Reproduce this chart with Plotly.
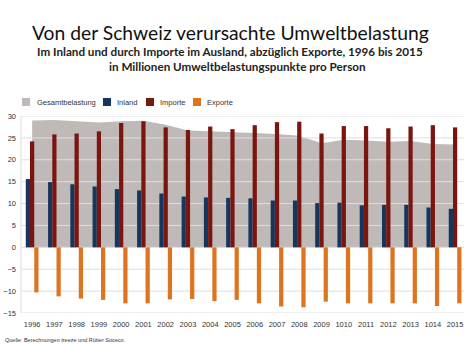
import plotly.graph_objects as go

years = ["1996", "1997", "1998", "1999", "2000", "2001", "2002", "2003", "2004", "2005",
         "2006", "2007", "2008", "2009", "1010", "2011", "2012", "2013", "1014", "2015"]
gesamt = [29.0, 29.1, 28.8, 28.5, 28.8, 28.9, 28.0, 26.7, 26.5, 26.3,
          26.1, 25.9, 25.5, 23.8, 24.6, 24.4, 24.1, 24.3, 23.6, 23.5]
inland = [15.6, 14.9, 14.4, 13.9, 13.3, 13.0, 12.3, 11.6, 11.4, 11.3,
          11.2, 10.7, 10.7, 10.1, 10.2, 9.6, 9.7, 9.7, 9.1, 8.8]
importe = [24.2, 25.8, 26.0, 26.5, 28.4, 28.8, 27.4, 26.8, 27.6, 27.0,
           27.9, 28.6, 28.7, 26.0, 27.7, 27.7, 27.2, 27.6, 27.9, 27.4]
exporte = [-10.3, -11.2, -11.7, -12.0, -12.8, -12.8, -11.9, -11.8, -12.3, -12.0,
           -12.8, -13.5, -13.7, -12.4, -12.8, -12.8, -12.8, -12.8, -13.4, -12.8]
y_ticks = [-15, -10, -5, 0, 5, 10, 15, 20, 25, 30]
series_names = ["Gesamtbelastung", "Inland", "Importe", "Exporte"]

C_GRAY = "#bfbab8"
C_BLUE = "#15375e"
C_RED = "#7a1510"
C_ORANGE = "#dc7420"
C_GRID = "#dedede"
colors = [C_GRAY, C_BLUE, C_RED, C_ORANGE]

W, H = 464, 347
ML, MR, MT, MB = 21, 0, 116, 34
FONT = "Liberation Sans, Arial, sans-serif"
TFONT = "Lato, Open Sans, sans-serif"
Y_RANGE = [-15, 30]
X_RANGE = [-0.5, 19.4]

fig = go.Figure()
# layer 1: total area (main axes)
fig.add_trace(go.Scatter(x=years, y=gesamt, name=series_names[0], mode="none",
                         fill="tozeroy", fillcolor=C_GRAY, showlegend=False,
                         xaxis="x", yaxis="y"))
# layer 2: gridlines drawn above the area, built from the tick values
gx, gy = [], []
for t in y_ticks:
    gx += [0, 1, None]
    gy += [t, t, None]
fig.add_trace(go.Scatter(x=gx, y=gy, mode="lines", line=dict(color=C_GRID, width=1),
                         hoverinfo="skip", showlegend=False, xaxis="x2", yaxis="y2"))
# layer 3: bars
fig.add_trace(go.Bar(x=years, y=inland, name=series_names[1], marker_color=C_BLUE,
                     marker_line_width=0, showlegend=False, xaxis="x3", yaxis="y3"))
fig.add_trace(go.Bar(x=years, y=importe, name=series_names[2], marker_color=C_RED,
                     marker_line_width=0, showlegend=False, xaxis="x3", yaxis="y3"))
fig.add_trace(go.Bar(x=years, y=exporte, name=series_names[3], marker_color=C_ORANGE,
                     marker_line_width=0, showlegend=False, xaxis="x3", yaxis="y3"))

pw = W - ML - MR
ph = H - MT - MB


def px_x(x):
    return (x - ML) / pw


def px_y(y):
    return (H - MB - y) / ph


annotations = []
shapes = []
annotations.append(dict(text="Von der Schweiz verursachte Umweltbelastung", x=px_x(230), y=px_y(32),
                        xref="paper", yref="paper", showarrow=False, xanchor="center", yanchor="middle",
                        font=dict(family=TFONT, size=19.3, color="#111111")))
annotations.append(dict(text="<b>Im Inland und durch Importe im Ausland, abzüglich Exporte, 1996 bis 2015</b>",
                        x=px_x(229.5), y=px_y(51), xref="paper", yref="paper", showarrow=False,
                        xanchor="center", yanchor="middle",
                        font=dict(family=TFONT, size=11.7, color="#222222")))
annotations.append(dict(text="<b>in Millionen Umweltbelastungspunkte pro Person</b>",
                        x=px_x(237.5), y=px_y(66), xref="paper", yref="paper", showarrow=False,
                        xanchor="center", yanchor="middle",
                        font=dict(family=TFONT, size=11.7, color="#222222")))
leg_sq = [22, 103, 146, 193]
leg_tx = [35, 115, 158, 205]
for name, col, sx, tx in zip(series_names, colors, leg_sq, leg_tx):
    shapes.append(dict(type="rect", xref="paper", yref="paper",
                       x0=px_x(sx), x1=px_x(sx + 8), y0=px_y(106), y1=px_y(98),
                       fillcolor=col, line_width=0))
    annotations.append(dict(text=name, x=px_x(tx), y=px_y(102), xref="paper", yref="paper",
                            showarrow=False, xanchor="left", yanchor="middle",
                            font=dict(family=FONT, size=7.5, color="#333333")))
annotations.append(dict(text="Quelle: Berechnungen treeze und Rütter Soceco.", x=px_x(3), y=px_y(340),
                        xref="paper", yref="paper", showarrow=False, xanchor="left", yanchor="middle",
                        font=dict(family=FONT, size=5.5, color="#333333")))
# light left border of the plot area
shapes.append(dict(type="line", xref="paper", yref="paper", x0=0, x1=0, y0=0, y1=1,
                   line=dict(color=C_GRID, width=1)))

fig.update_layout(
    width=W, height=H,
    margin=dict(l=ML, r=MR, t=MT, b=MB),
    paper_bgcolor="white", plot_bgcolor="white",
    barmode="group", bargap=0.43, bargroupgap=0,
    showlegend=False,
    annotations=annotations, shapes=shapes,
    font=dict(family=FONT, size=7.5, color="#333333"),
    xaxis=dict(type="category", range=X_RANGE, showgrid=False, showline=False, zeroline=False,
               ticks="", tickfont=dict(family=FONT, size=7.5, color="#333333"),
               ticklabelstandoff=5),
    yaxis=dict(range=Y_RANGE, tickvals=y_ticks, showgrid=False, zeroline=False, showline=False,
               ticks="", tickfont=dict(family=FONT, size=7.5, color="#333333"),
               ticklabelstandoff=4),
    xaxis2=dict(overlaying="x", range=[0, 1], visible=False, fixedrange=True),
    yaxis2=dict(overlaying="y", range=Y_RANGE, visible=False),
    xaxis3=dict(overlaying="x", type="category", range=X_RANGE, visible=False,
                categoryorder="array", categoryarray=years),
    yaxis3=dict(overlaying="y", range=Y_RANGE, visible=False),
)

fig.write_html("out.html")
